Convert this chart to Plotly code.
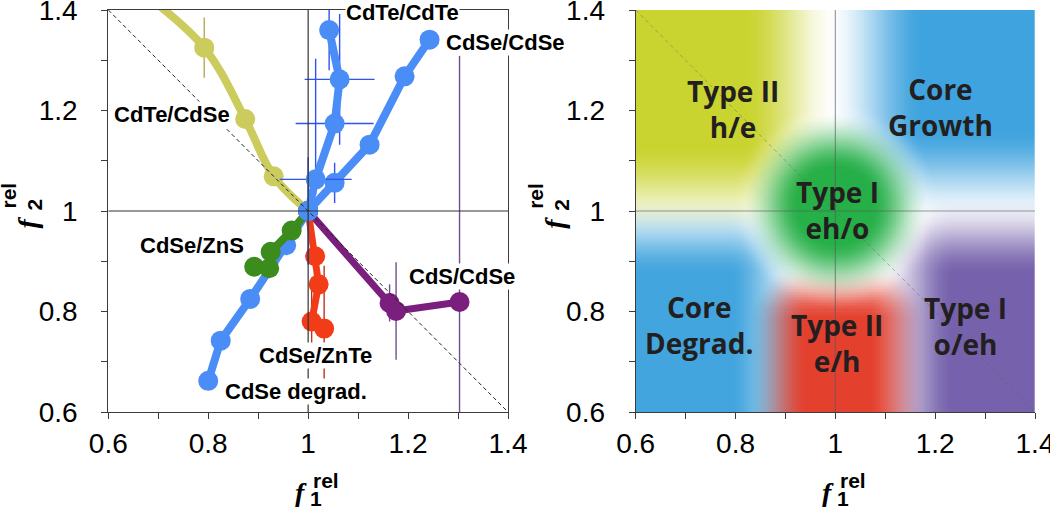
import numpy as np
import plotly.graph_objects as go

# ---------------- data: left panel, (f1_rel, f2_rel) trajectories ----------------
CDTE_CDSE_X = [0.655, 0.792, 0.874, 0.931, 1.0]
CDTE_CDSE_Y = [1.445, 1.325, 1.183, 1.069, 1.0]
CDTE_CDSE_EY = [0, 0.06, 0, 0, 0]

CDS_CDSE_X = [1.0, 1.163, 1.176, 1.303]
CDS_CDSE_Y = [1.0, 0.817, 0.801, 0.819]
CDS_CDSE_EY = [0, 0.037, 0.097, 0.49]

CDSE_ZNTE_X = [1.0, 1.014, 1.021, 1.007, 1.032]
CDSE_ZNTE_Y = [1.0, 0.910, 0.854, 0.780, 0.766]
CDSE_ZNTE_EY = [0, 0, 0, 0.062, 0.125]

CDSE_DEGRAD_X = [1.0, 0.956, 0.884, 0.825, 0.800]
CDSE_DEGRAD_Y = [1.0, 0.932, 0.825, 0.742, 0.662]

CDSE_ZNS_X = [1.0, 0.967, 0.925, 0.922, 0.892]
CDSE_ZNS_Y = [1.0, 0.961, 0.919, 0.886, 0.889]

CDSE_CDSE_X = [1.0, 1.053, 1.123, 1.193, 1.243]
CDSE_CDSE_Y = [1.0, 1.056, 1.132, 1.268, 1.341]
CDSE_CDSE_EY = [0, 0.04, 0, 0, 0]

CDTE_CDTE_X = [1.0, 1.015, 1.053, 1.063, 1.042]
CDTE_CDTE_Y = [1.0, 1.063, 1.174, 1.262, 1.360]
CDTE_CDTE_EX = [0, 0.072, 0.078, 0.07, 0]
CDTE_CDTE_EY_PLUS = [0.107, 0.24, 0, 0.13, 0.08]
CDTE_CDTE_EY_MINUS = [0.107, 0.03, 0, 0.13, 0.08]

SERIES_LABELS = ["CdTe/CdTe", "CdSe/CdSe", "CdTe/CdSe", "CdSe/ZnS",
                 "CdS/CdSe", "CdSe/ZnTe", "CdSe degrad."]

TICK_VALS = [0.6, 0.8, 1.0, 1.2, 1.4]
TICK_TEXT = ["0.6", "0.8", "1", "1.2", "1.4"]

# ---------------- right panel: regime map ----------------
REGION_NAMES = ["Type II<br>h/e", "Core<br>Growth", "Type I<br>eh/o",
                "Core<br>Degrad.", "Type II<br>e/h", "Type I<br>o/eh"]

# colours
BLUE = "#4a8df6"
YELLOW = "#cbcb5e"
GREEN = "#3b8c1d"
RED = "#f23c18"
PURPLE = "#7b1f7e"
ERR_BLUE = "#2f52f2"
ERR_PURPLE = "#6e4f8e"
ERR_RED = "#c2321e"
ERR_YELLOW = "#b4aa55"

W, H = 1050, 507
ML, MT, MB = 0, 10, 95
LEFT_DOM = [108.3 / W, 508.0 / W]
RIGHT_DOM = [635.7 / W, 1035.0 / W]


def px(x):
    return x / W


def py(y):
    return (412.0 - y) / 402.0


def smooth(t):
    t = np.clip(t, 0, 1)
    return t * t * (3 - 2 * t)


def build_map(n=200):
    """Soft-edged colour regions for the background of the right panel."""
    xs = 0.6 + (np.arange(n) + 0.5) * 0.8 / n
    ys = 0.6 + (np.arange(n) + 0.5) * 0.8 / n
    X, Y = np.meshgrid(xs, ys)

    def rect(x0, x1, y0, y1, f):
        # x0..y1 are the 50 % edges, f the full feather width
        x0, x1, y0, y1 = x0 + f / 2, x1 - f / 2, y0 + f / 2, y1 - f / 2
        dx = np.maximum(np.maximum(x0 - X, 0), X - x1)
        dy = np.maximum(np.maximum(y0 - Y, 0), Y - y1)
        return smooth(1 - np.sqrt(dx ** 2 + dy ** 2) / f)

    r = np.sqrt((X - 1.0) ** 2 + (Y - 1.01) ** 2)
    halo = 0.15 + 0.85 * smooth((r - 0.11) / 0.10)
    regions = [
        (rect(-1.0, 0.91, 1.04, 3.0, 0.19) * halo, (202, 212, 48)),
        (rect(1.08, 3.0, 1.07, 3.0, 0.20) * halo, (62, 163, 222)),
        (smooth(1 - np.maximum(r - 0.07, 0) / 0.12), (38, 176, 72)),
        (rect(-1.0, 0.865, -1.0, 0.95, 0.16) * halo, (66, 165, 222)),
        (rect(0.885, 1.125, -1.0, 0.84, 0.12) * halo, (228, 64, 46)),
        (rect(1.16, 3.0, -1.0, 0.95, 0.16) * halo, (118, 98, 172)),
    ]
    tot = sum(w for w, _ in regions)
    img = np.zeros((n, n, 3))
    for w, c in regions:
        img += w[..., None] * np.array(c, dtype=float)
    img += np.maximum(0, 1 - tot)[..., None] * 255.0
    img /= np.maximum(1, tot)[..., None]
    return img.astype(np.uint8), xs, ys


fig = go.Figure()


def series(x, y, color, ecolor=None, ey=None, ex=None, ey_minus=None,
           width=8, shape="linear"):
    kw = {}
    if ey is not None:
        kw["error_y"] = dict(type="data", array=ey,
                             arrayminus=ey_minus if ey_minus is not None else ey,
                             symmetric=ey_minus is None, color=ecolor,
                             thickness=1.4, width=0)
    if ex is not None:
        kw["error_x"] = dict(type="data", array=ex, color=ecolor,
                             thickness=1.4, width=0)
    fig.add_trace(go.Scatter(
        x=x, y=y, mode="lines+markers",
        line=dict(color=color, width=width, shape=shape),
        marker=dict(size=20, color=color),
        showlegend=False, hoverinfo="x+y", **kw))


series(CDTE_CDSE_X, CDTE_CDSE_Y, YELLOW, ERR_YELLOW, ey=CDTE_CDSE_EY,
       width=8, shape="spline")
series(CDS_CDSE_X, CDS_CDSE_Y, PURPLE, ERR_PURPLE, ey=CDS_CDSE_EY, width=7)
series(CDSE_ZNTE_X, CDSE_ZNTE_Y, RED, ERR_RED, ey=CDSE_ZNTE_EY, width=7)
series(CDSE_DEGRAD_X, CDSE_DEGRAD_Y, BLUE, width=8)
series(CDSE_ZNS_X, CDSE_ZNS_Y, GREEN, width=8)
series(CDSE_CDSE_X, CDSE_CDSE_Y, BLUE, ERR_BLUE, ey=CDSE_CDSE_EY, width=8)
series(CDTE_CDTE_X, CDTE_CDTE_Y, BLUE, ERR_BLUE, ey=CDTE_CDTE_EY_PLUS,
       ey_minus=CDTE_CDTE_EY_MINUS, ex=CDTE_CDTE_EX, width=8)

# background map for the right panel
img, gx, gy = build_map()
fig.add_trace(go.Image(z=img, x0=gx[0], dx=gx[1] - gx[0], y0=gy[0],
                       dy=gy[1] - gy[0], xaxis="x2", yaxis="y2",
                       hoverinfo="skip"))

# reference lines
for xr, yr, col, dcol in [("x", "y", "#333333", "#222222"),
                          ("x2", "y2", "rgba(90,90,90,0.6)", "rgba(90,90,90,0.4)")]:
    fig.add_shape(type="line", xref=xr, yref=yr, x0=1, x1=1, y0=0.6, y1=1.4,
                  line=dict(color=col, width=1.2), layer="above")
    fig.add_shape(type="line", xref=xr, yref=yr, x0=0.6, x1=1.4, y0=1, y1=1,
                  line=dict(color=col, width=1.2), layer="above")
    fig.add_shape(type="line", xref=xr, yref=yr, x0=0.6, x1=1.4, y0=1.4, y1=0.6,
                  line=dict(color=dcol, width=1, dash="4px,3px"), layer="above")

# series labels (left)
label_pos = {
    "CdTe/CdTe": (1.188, 1.396, "center"),
    "CdSe/CdSe": (1.274, 1.335, "left"),
    "CdTe/CdSe": (0.728, 1.193, "center"),
    "CdSe/ZnS": (0.767, 0.932, "center"),
    "CdS/CdSe": (1.308, 0.870, "center"),
    "CdSe/ZnTe": (1.015, 0.713, "center"),
    "CdSe degrad.": (0.975, 0.640, "center"),
}
for name in SERIES_LABELS:
    x, y, anc = label_pos[name]
    fig.add_annotation(x=x, y=y, xref="x", yref="y", text=name, showarrow=False,
                       xanchor=anc, yanchor="middle", bgcolor="white", borderpad=0,
                       font=dict(family="Liberation Sans, Arial", size=22,
                                 color="black", weight="bold"))

# region labels (right)
region_pos = [(0.795, 1.203), (1.210, 1.206), (1.005, 1.002),
              (0.727, 0.773), (1.003, 0.737), (1.260, 0.771)]
for name, (x, y) in zip(REGION_NAMES, region_pos):
    fig.add_annotation(x=x, y=y, xref="x2", yref="y2", text=name, showarrow=False,
                       xanchor="center", yanchor="middle",
                       font=dict(family="Open Sans, Lato", size=28, color="#231f20",
                                 weight="bold"))

# axis titles built as stacked f / rel / index
F_FONT = dict(family="Liberation Serif, Times New Roman", size=28, color="black")
S_FONT = dict(family="Liberation Sans, Arial", size=21, color="black", weight="bold")


def title_part(x, y, text, font, angle=0):
    fig.add_annotation(x=px(x), y=py(y), xref="paper", yref="paper", text=text,
                       showarrow=False, font=font, textangle=angle,
                       xanchor="center", yanchor="middle")


for dx in (0.0, 527.3):
    title_part(301 + dx, 492.5, "<b><i>f</i></b>", F_FONT)
    title_part(325.7 + dx, 480.5, "rel", S_FONT)
    title_part(316 + dx, 498, "1", S_FONT)
    title_part(26.5 + dx, 223, "<b><i>f</i></b>", F_FONT, -90)
    title_part(7.5 + dx, 196, "rel", S_FONT, -90)
    title_part(34.5 + dx, 205, "2", S_FONT, -90)

TICK_FONT = dict(family="Liberation Sans, Arial", size=28, color="black")


def axis(dom, anchor, mirror, standoff):
    return dict(domain=dom, anchor=anchor, range=[0.6, 1.4], showgrid=False,
                zeroline=False, showline=True, linecolor="#3c3c3c", linewidth=1.2,
                mirror=mirror, ticks="outside", ticklen=6, tickcolor="#3c3c3c",
                tickvals=TICK_VALS, ticktext=TICK_TEXT, tickfont=TICK_FONT,
                ticklabelstandoff=standoff, automargin=False,
                ticklabeloverflow="allow",
                minor=dict(ticks="outside", dtick=0.1, tick0=0.6, ticklen=6,
                           tickcolor="#3c3c3c"))


fig.update_layout(
    width=W, height=H,
    margin=dict(l=ML, r=0, t=MT, b=MB),
    paper_bgcolor="white", plot_bgcolor="white",
    xaxis=axis(LEFT_DOM, "y", True, 0),
    yaxis=axis([0, 1], "x", True, 18),
    xaxis2=axis(RIGHT_DOM, "y2", False, 0),
    yaxis2=dict(axis([0, 1], "x2", False, 18), scaleanchor=False,
                autorange=False),
    showlegend=False,
)

fig.write_html("out.html", config={"displayModeBar": False},
               post_script="document.body.style.margin='0';")
